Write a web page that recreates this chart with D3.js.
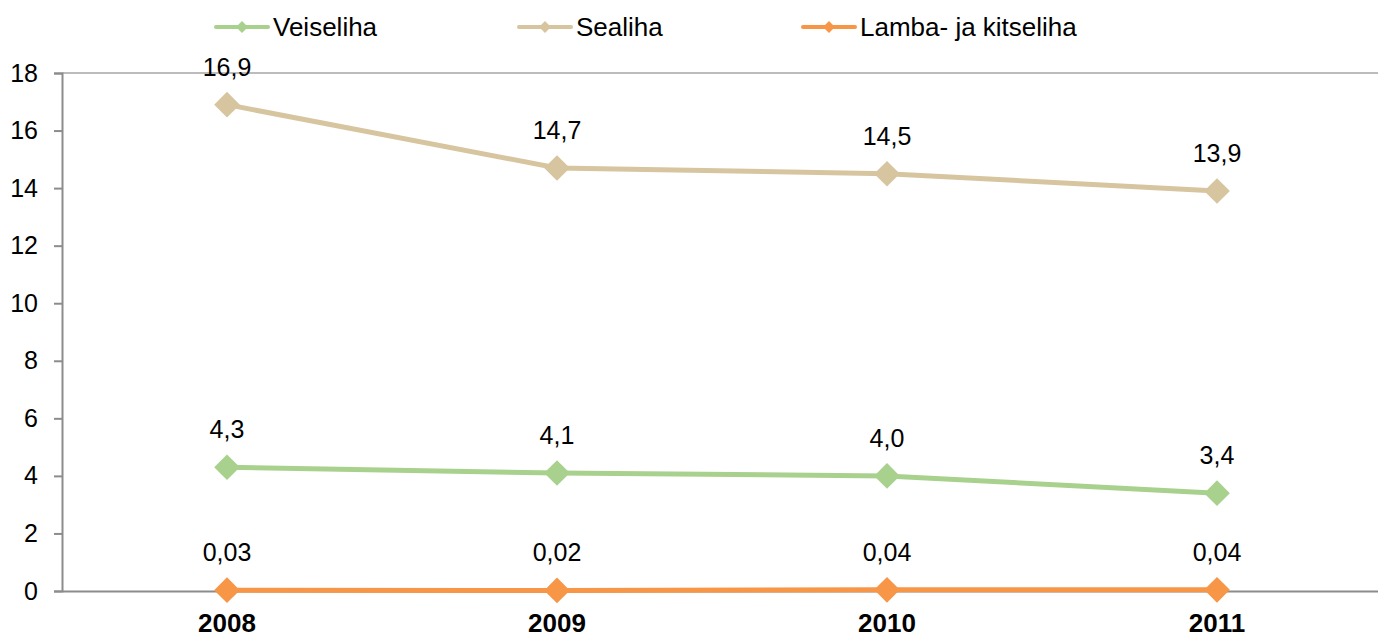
<!DOCTYPE html>
<html lang="et">
  <head>
    <meta charset="utf-8"/>
    <title>Lihatarbimine</title>
    <script src="https://d3js.org/d3.v7.min.js"></script>
    <style>
      body { margin: 0; background: #fff; }
      svg { display: block; font-family: "Liberation Sans", Arial, sans-serif; }
    </style>
  </head>
  <body>
    <div id="chart"></div>
    <script>
    var years = ["2008", "2009", "2010", "2011"];
    var seriesNames = ["Veiseliha", "Sealiha", "Lamba- ja kitseliha"];
    var seriesColors = ["#a9d18e", "#d7c59f", "#f79646"];
    var veiseliha = [4.3, 4.1, 4.0, 3.4];
    var sealiha = [16.9, 14.7, 14.5, 13.9];
    var lambaliha = [0.03, 0.02, 0.04, 0.04];
    var labelDecimals = [1, 1, 2];
    var yTicks = [0, 2, 4, 6, 8, 10, 12, 14, 16, 18];

    var chartW = 1378, chartH = 636;
    var plotLeft = 62, plotRight = 1382, plotTop = 73, plotBottom = 591;
    var fontFam = "'Liberation Sans', Arial, sans-serif";

    var svg = d3.select("#chart").append("svg")
        .attr("width", chartW)
        .attr("height", chartH);

    var x = d3.scaleBand().domain(years).range([plotLeft, plotRight]);
    var y = d3.scaleLinear().domain([0, 18]).range([plotBottom, plotTop]);
    var cx = function(d) { return x(d) + x.bandwidth() / 2; };

    // top gridline
    svg.append("line")
        .attr("x1", plotLeft).attr("x2", plotRight)
        .attr("y1", y(18)).attr("y2", y(18))
        .attr("stroke", "#a6a6a6").attr("stroke-width", 1.5);

    // y axis
    var yAxis = svg.append("g")
        .attr("transform", "translate(" + plotLeft + ",0)")
        .call(d3.axisLeft(y).tickValues(yTicks).tickSize(8).tickPadding(16));
    yAxis.select(".domain").attr("stroke", "#8c8c8c").attr("stroke-width", 2);
    yAxis.selectAll(".tick line").attr("stroke", "#8c8c8c").attr("stroke-width", 2);
    yAxis.selectAll(".tick text").attr("font-size", 25).attr("fill", "#000")
        .style("font-family", fontFam);

    // x axis
    var xAxis = svg.append("g")
        .attr("transform", "translate(0," + plotBottom + ")")
        .call(d3.axisBottom(x).tickSize(0).tickPadding(23));
    xAxis.select(".domain").attr("stroke", "#8c8c8c").attr("stroke-width", 2);
    xAxis.selectAll(".tick text").attr("font-size", 26).attr("font-weight", "bold")
        .attr("fill", "#000")
        .style("font-family", fontFam);

    var series = [veiseliha, sealiha, lambaliha];
    var diamond = d3.symbol().type(d3.symbolDiamond2).size(420);

    var line = d3.line()
        .x(function(d, i) { return cx(years[i]); })
        .y(function(d) { return y(d); });

    series.forEach(function(vals, s) {
      var g = svg.append("g");
      g.append("path")
          .attr("d", line(vals))
          .attr("fill", "none")
          .attr("stroke", seriesColors[s])
          .attr("stroke-width", 5);
      g.selectAll("path.pt").data(vals).enter().append("path")
          .attr("class", "pt")
          .attr("d", diamond)
          .attr("transform", function(d, i) { return "translate(" + cx(years[i]) + "," + y(d) + ")"; })
          .attr("fill", seriesColors[s]);
      g.selectAll("text").data(vals).enter().append("text")
          .attr("x", function(d, i) { return cx(years[i]); })
          .attr("y", function(d) { return y(d) - 29; })
          .attr("text-anchor", "middle")
          .attr("font-size", 25)
          .text(function(d) { return d.toFixed(labelDecimals[s]).replace(".", ","); });
    });

    // legend
    var legendX = [214, 517, 801];
    var legend = svg.selectAll("g.legend").data(seriesNames).enter().append("g")
        .attr("class", "legend")
        .attr("transform", function(d, i) { return "translate(" + legendX[i] + ",27)"; });
    legend.append("line")
        .attr("x1", 2).attr("x2", 54)
        .attr("stroke", function(d, i) { return seriesColors[i]; })
        .attr("stroke-width", 4)
        .attr("stroke-linecap", "round");
    legend.append("path")
        .attr("d", d3.symbol().type(d3.symbolDiamond2).size(90))
        .attr("transform", "translate(28,0)")
        .attr("fill", function(d, i) { return seriesColors[i]; });
    legend.append("text")
        .attr("x", 59).attr("y", 9)
        .attr("font-size", 26)
        .text(function(d) { return d; });
    </script>
  </body>
</html>
